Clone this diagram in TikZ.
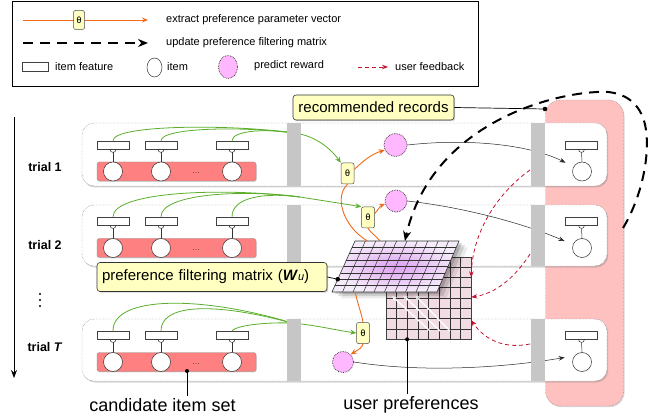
\documentclass[tikz,border=0pt]{standalone}
\usepackage{fontspec}
\setmainfont{Liberation Sans}
\newfontfamily\thetafont{DejaVu Sans Mono}
\usetikzlibrary{arrows.meta,shadows,calc,shapes.geometric}

\definecolor{leafgreen}{HTML}{5BAE2C}
\definecolor{paramorange}{HTML}{F26A1B}
\definecolor{feedbackred}{HTML}{C3142D}
\definecolor{noteyellow}{HTML}{FFFFC2}
\definecolor{rewardpink}{HTML}{FFB8FF}
\definecolor{panelpink}{HTML}{FFC0C0}
\definecolor{candred}{HTML}{FF8080}
\definecolor{bargray}{HTML}{C6C6C6}
\definecolor{prefpink}{HTML}{F2DCE4}
\definecolor{filterin}{HTML}{DCA0F0}
\definecolor{filterout}{HTML}{F5ECF9}

\tikzset{
  feat/.style={rectangle, draw=black!75, fill=white, line width=0.5pt, minimum width=32pt, minimum height=8pt, inner sep=0pt},
  itm/.style={circle, draw=black!80, fill=white, line width=0.5pt, minimum size=19pt, inner sep=0pt},
  sock/.style={draw=black!80, line width=0.5pt},
  rowbox/.style={rectangle, rounded corners=12pt, draw=black!65, densely dotted, fill=white, inner sep=0pt,
    drop shadow={shadow xshift=1.2pt, shadow yshift=-1.5pt, opacity=0.35}},
  candbar/.style={rectangle, rounded corners=2.5pt, draw=black!45, fill=candred, minimum width=159pt, minimum height=19pt, inner sep=0pt,
    drop shadow={shadow xshift=0.8pt, shadow yshift=-0.8pt, opacity=0.3}},
  graybar/.style={rectangle, fill=bargray, minimum width=14pt, inner sep=0pt},
  reward/.style={circle, draw=black!85, densely dotted, line width=0.7pt, fill=rewardpink, inner sep=0pt},
  thetabox/.style={rectangle, rounded corners=2pt, draw=black!70, fill=noteyellow, line width=0.5pt, inner sep=0pt,
    minimum width=13pt, minimum height=21pt, font=\thetafont\fontsize{9}{9}\selectfont},
  note/.style={rectangle, rounded corners=3pt, draw=black!80, fill=noteyellow, line width=0.6pt, inner sep=0pt,
    font=\fontsize{15}{15}\selectfont, drop shadow={shadow xshift=1.2pt, shadow yshift=-1.2pt, opacity=0.35}},
  featlink/.style={leafgreen, line width=0.8pt},
  featarrow/.style={featlink, -{Stealth[length=6pt,width=5pt]}},
  paramline/.style={paramorange, line width=0.9pt},
  paramarrow/.style={paramline, -{Stealth[length=6pt,width=5pt]}},
  rewardarrow/.style={black!85, line width=0.5pt, -{Stealth[length=6pt,width=4.5pt]}},
  feedback/.style={feedbackred, line width=0.8pt, dash pattern=on 4pt off 3pt, -{Stealth[length=6pt,width=4.5pt]}},
  updatearrow/.style={black, line width=2pt, dash pattern=on 10pt off 7pt, -{Stealth[length=10pt,width=8pt]}},
  gridline/.style={black!80, line width=0.5pt},
  legtext/.style={anchor=west, inner sep=0pt, font=\fontsize{11}{13}\selectfont},
  trial/.style={font=\bfseries\fontsize{12.5}{14}\selectfont, inner sep=0pt},
  caption/.style={font=\fontsize{18}{20}\selectfont, inner sep=0pt},
  ellipsis/.style={font=\fontsize{9}{9}\selectfont, text=black!70, inner sep=0pt},
}

\begin{document}
\begin{tikzpicture}[x=1pt, y=-1pt]
\useasboundingbox (0,0) rectangle (660,419);

% ---------- legend ----------
\node[draw=black, line width=0.7pt, minimum width=466pt, minimum height=85pt, inner sep=0pt] (legend) at (245,43.5) {};
\coordinate (lgo1) at (23,20);
\coordinate (lgo2) at (148,20);
\draw[paramarrow] (lgo1) -- (lgo2);
\node[thetabox, minimum width=11pt, minimum height=19pt] (lgtheta) at (79,20) {θ};
\node[legtext] (lgtxt1) at (166,20) {extract preference parameter vector};
\coordinate (lgu1) at (23,43);
\coordinate (lgu2) at (148,43);
\draw[updatearrow] (lgu1) -- (lgu2);
\node[legtext] (lgtxt2) at (166,43) {update preference filtering matrix};
\node[feat, minimum width=26pt, minimum height=9pt] (lgfeat) at (35,67) {};
\node[legtext] (lgtxt3) at (55,67) {item feature};
\node[itm, ellipse, minimum width=15pt, minimum height=19pt] (lgitem) at (154.5,67.5) {};
\node[legtext] (lgtxt4) at (167,67) {item};
\node[reward, ellipse, minimum width=19pt, minimum height=23pt] (lgreward) at (228,67) {};
\node[legtext] (lgtxt5) at (254,66) {predict reward};
\coordinate (lgf1) at (358,67);
\coordinate (lgf2) at (388,67);
\draw[feedback] (lgf1) -- (lgf2);
\node[legtext] (lgtxt6) at (395,67) {user feedback};

% ---------- time axis ----------
\coordinate (tl0) at (14,117);
\coordinate (tl1) at (14,378);
\draw[line width=0.8pt, -{Stealth[length=8pt,width=6pt]}] (tl0) -- (tl1);
\node[trial] (trial1) at (45,167) {trial 1};
\node[trial] (trial2) at (45,245) {trial 2};
\node[trial] (trialT) at (45,347) {trial \textit{T}};
\foreach \yy in {294,300,306} \fill (40,\yy) circle (1.2pt);

% ---------- recommended records panel ----------
\node[rectangle, rounded corners=15pt, draw=black!60, densely dotted, fill=panelpink, minimum width=78pt, minimum height=306pt,
  inner sep=0pt, drop shadow={shadow xshift=1pt, shadow yshift=-1.2pt, opacity=0.3}] (panel) at (584.5,253) {};

% ---------- trial rows ----------
\foreach \r/\ytop/\ybot/\fy/\cy in {1/123/186/145/171.5, 2/205/266/221/248, T/319/381/335/362}{
  \pgfmathsetmacro{\rh}{\ybot-\ytop}
  \pgfmathsetmacro{\rmid}{(\ytop+\ybot)/2}
  \node[rowbox, minimum width=525pt, minimum height=\rh pt] (row\r) at (344.5,\rmid) {};
  \node[candbar] (bar\r) at (176.5,\cy) {};
  \node[ellipsis] (dots\r) at (196,\cy+2) {...};
  \foreach \k/\x in {1/113,2/161,3/232}{
    \node[feat] (f\r\k) at (\x,\fy) {};
    \node[itm] (c\r\k) at (\x,\cy) {};
    \draw[sock] ($(f\r\k.south)+(-3,0)$) .. controls +(0,4.2) and +(0,4.2) .. ($(f\r\k.south)+(3,0)$);
    \draw[sock] ($(f\r\k.south)+(0,3.2)$) -- (c\r\k.north);
  }
  \node[feat] (rf\r) at (581.5,\fy) {};
  \node[itm] (rc\r) at (582,\cy) {};
  \draw[sock] ($(rf\r.south)+(-3,0)$) .. controls +(0,4.2) and +(0,4.2) .. ($(rf\r.south)+(3,0)$);
  \draw[sock] ($(rf\r.south)+(0,3.2)$) -- (rc\r.north);
}

% ---------- parameter vectors and predicted rewards ----------
\node[thetabox] (th1) at (347.5,173.5) {θ};
\node[thetabox] (th2) at (368,217.5) {θ};
\node[thetabox] (thT) at (363,333) {θ};
\node[reward, minimum size=23pt] (rw1) at (395.5,145) {};
\node[reward, minimum size=22pt] (rw2) at (396,201) {};
\node[reward, minimum size=21pt] (rwT) at (343,362) {};

% ---------- item features feeding the parameter vectors ----------
\coordinate (g1) at (300,134);
\draw[featlink] (f11.north) .. controls (113,124) and (240,124) .. (g1);
\draw[featlink] (f12.north) .. controls (161,127) and (250,126) .. (g1);
\draw[featlink] (f13.north) .. controls (232,130) and (270,128) .. (g1);
\draw[featarrow] (g1) .. controls (318,138) and (332,150) .. (th1.north west);

\coordinate (g2) at (300,197);
\draw[featlink] (f21.north) .. controls (113,192) and (220,187) .. (g2);
\draw[featlink] (f22.north) .. controls (161,194) and (240,189) .. (g2);
\draw[featlink] (f23.north) .. controls (232,198) and (262,192) .. (g2);
\draw[featarrow] (g2) .. controls (325,201) and (345,204) .. (th2.north west);

\coordinate (gT) at (292,323);
\draw[featlink] (fT1.north) .. controls (113,296) and (200,295) .. (gT);
\draw[featlink] (fT2.north) .. controls (161,305) and (210,301) .. (gT);
\draw[featlink] (fT3.north) .. controls (236,326) and (262,322) .. (gT);
\draw[featarrow] (gT) .. controls (315,325) and (335,330) .. (thT.west);

% ---------- rewards to recommended items ----------
\draw[rewardarrow, shorten >=9pt] (rw1.east) .. controls (470,138) and (530,145) .. (rc1.150);
\draw[rewardarrow, shorten >=9pt] (rw2.east) .. controls (470,208) and (530,226) .. (rc2.160);
\draw[rewardarrow, shorten >=10pt] (rwT.east) .. controls (430,374) and (515,366) .. (rcT.140);

% ---------- separators ----------
\foreach \r/\ytop/\ybot in {1/123/186, 2/205/266, T/319/381}{
  \pgfmathsetmacro{\rh}{\ybot-\ytop}
  \pgfmathsetmacro{\rmid}{(\ytop+\ybot)/2}
  \node[graybar, minimum height=\rh pt] (gl\r) at (294,\rmid) {};
  \node[graybar, minimum height=\rh pt] (gr\r) at (537.5,\rmid) {};
}

% ---------- user preferences (back grid) ----------
\node[draw=black!75, fill=prefpink, minimum width=85pt, minimum height=82pt, inner sep=0pt, line width=0.5pt] (bm) at (428.5,298) {};
\foreach \i [evaluate=\i as \t using \i/8] in {1,...,7}{
  \draw[gridline] ($(bm.north west)!\t!(bm.north east)$) -- ($(bm.south west)!\t!(bm.south east)$);
  \draw[gridline] ($(bm.north west)!\t!(bm.south west)$) -- ($(bm.north east)!\t!(bm.south east)$);
}
\foreach \n/\xa/\xb/\yb in {1/430/392/296, 2/440/403/295, 3/450/415/295}{
  \coordinate (wa\n a) at (\xa,331);
  \coordinate (wa\n b) at (\xb,\yb);
  \draw[white, line width=1.3pt, -{Stealth[length=5pt,width=4.5pt]}] (wa\n a) -- (wa\n b);
}

% ---------- preference filtering matrix (front grid) ----------
\coordinate (mTL) at (355,241);
\coordinate (mTR) at (459,241);
\coordinate (mBR) at (437,292);
\coordinate (mBL) at (332,292);
\foreach \s/\o in {3/0.16, 6/0.12, 9/0.08}{
  \fill[black, opacity=\o] ($(mTL)+(\s,\s*0.7)$) -- ($(mTR)+(\s,\s*0.7)$) -- ($(mBR)+(\s,\s*0.7)$) -- ($(mBL)+(\s,\s*0.7)$) -- cycle;
}
\shade[inner color=filterin, outer color=filterout] (mTL) -- (mTR) -- (mBR) -- (mBL) -- cycle;
\foreach \i [evaluate=\i as \t using \i/10] in {1,...,9}{
  \draw[gridline] ($(mTL)!\t!(mTR)$) -- ($(mBL)!\t!(mBR)$);
}
\foreach \i [evaluate=\i as \t using \i/8] in {1,...,7}{
  \draw[gridline] ($(mTL)!\t!(mBL)$) -- ($(mTR)!\t!(mBR)$);
}
\draw[gridline, line width=0.6pt] (mTL) -- (mTR) -- (mBR) -- (mBL) -- cycle;

% ---------- parameter extraction ----------
\coordinate (mo1) at ($(mTL)!0.12!(mTR)$);
\coordinate (mo2) at ($(mTL)!0.24!(mTR)$);
\coordinate (mo3) at ($(mBL)!0.22!(mBR)$);
\draw[paramline] (th1.south) .. controls (333,198) and (345,228) .. (mo1);
\draw[paramline] (th2.south) .. controls (370,232) and (376,236) .. (mo2);
\draw[paramline] (mo3) .. controls (358,305) and (362,315) .. (thT.north);
\draw[paramarrow] ($(th1.east)+(0,-4)$) .. controls (364,160) and (372,154) .. (rw1.205);
\draw[paramarrow] ($(th2.east)+(0,-4)$) .. controls (378,210) and (380,206) .. (rw2.195);
\draw[paramarrow] (thT.south) .. controls (363,347) and (358,350) .. (rwT.45);

% ---------- user feedback ----------
\coordinate (fbs1) at (530,170);
\coordinate (fbs2) at (530,254);
\coordinate (fbsT) at (530,344);
\coordinate (fbe1) at ($(bm.north east)!0.25!(bm.south east)$);
\coordinate (fbe2) at ($(bm.north east)!0.49!(bm.south east)$);
\coordinate (fbeT) at ($(bm.north east)!0.77!(bm.south east)$);
\draw[feedback] (fbs1) .. controls (495,195) and (472,235) .. (fbe1);
\draw[feedback] (fbs2) .. controls (512,282) and (492,294) .. (fbe2);
\draw[feedback] (fbsT) .. controls (500,350) and (482,336) .. (fbeT);

% ---------- matrix update ----------
\coordinate (dsA) at (623,228);
\coordinate (dsB) at (646,130);
\coordinate (dsC) at (597,92);
\coordinate (mdash) at ($(mTL)!0.48!(mTR)$);
\draw[updatearrow] (dsA) .. controls (640,200) and (650,160) .. (dsB)
  .. controls (642,100) and (620,90) .. (dsC)
  .. controls (540,95) and (430,130) .. (mdash);

% ---------- labels ----------
\node[note, minimum width=161pt, minimum height=25pt] (rr) at (373.5,107.5) {recommended records};
\coordinate (rrdot) at (545,109);
\draw[line width=0.7pt] (rr.east) -- (rrdot);
\fill (rrdot) circle (2.3pt);

\node[note, text width=220pt, align=left, inner xsep=5pt, minimum height=29pt] (pfm) at (212,277)
  {preference filtering matrix (\textbf{\textit{W}}{\itshape\fontsize{11}{11}\selectfont u})};
\coordinate (pfmdot) at ($(mTL)!0.75!(mBL)$);
\draw[line width=0.7pt] (pfm.east) -- (pfmdot);
\fill (pfmdot) circle (2.3pt);

\node[caption] (cand) at (162.5,405) {candidate item set};
\coordinate (cdot) at (187,371);
\draw[line width=0.7pt, shorten >=2pt] (cdot) -- (cdot |- cand.north);
\fill (cdot) circle (2pt);

\node[caption] (uprefs) at (411,405) {user preferences};
\coordinate (udot) at ($(bm.south west)!0.25!(bm.south east)$);
\draw[line width=0.7pt, shorten >=2pt] (udot) -- (udot |- uprefs.north);
\fill (udot) circle (2pt);
\end{tikzpicture}
\end{document}
